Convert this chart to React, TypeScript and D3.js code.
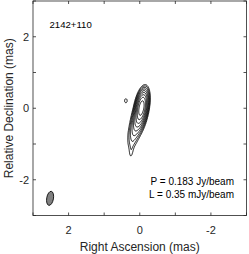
import React from "react";
import * as d3 from "d3";

const W = 249;
const H = 254;
const margin = { left: 33, right: 2.5, top: 1, bottom: 38.5 };

// map limits (mas)
const raDomain = [3, -3];
const decDomain = [-3, 3];
const raTicks = [3, 2, 1, 0, -1, -2, -3];
const decTicks = [-3, -2, -1, 0, 1, 2, 3];
const raLabels = [2, 0, -2];
const decLabels = [-2, 0, 2];

// source model: gaussian components (RA, Dec in mas, peak mJy/beam, fwhm mas, PA deg)
const compRA = [-0.05, 0.03, 0.12, 0.2, 0.24, 0.39];
const compDec = [0.02, -0.28, -0.58, -0.88, -1.2, 0.21];
const compPeak = [150, 18, 3.2, 0.9, 0.48, 0.5];
const compMaj = [0.44, 0.42, 0.42, 0.4, 0.36, 0.16];
const compMin = [0.15, 0.18, 0.2, 0.18, 0.1, 0.1];
const compPA = [-10, -12, -15, -12, -5, 0];

// contour levels (mJy/beam): L x 2^n
const levels = [0.35, 0.7, 1.4, 2.8, 5.6, 11.2, 22.4, 44.8, 89.6];

// restoring beam
const beamRA = 2.52;
const beamDec = -2.52;
const beamMaj = 0.4;
const beamMin = 0.19;
const beamPA = -10;

const sourceName = "2142+110";
const peakText = "P = 0.183 Jy/beam";
const levelText = "L = 0.35 mJy/beam";

const N = 301;

export default function App() {
  const x = d3.scaleLinear().domain(raDomain).range([margin.left, W - margin.right]);
  const y = d3.scaleLinear().domain(decDomain).range([H - margin.bottom, margin.top]);

  const values = new Float64Array(N * N);
  const stepRA = (raDomain[1] - raDomain[0]) / (N - 1);
  const stepDec = (decDomain[0] - decDomain[1]) / (N - 1);
  const k = 4 * Math.LN2;
  for (let j = 0; j < N; j++) {
    const dec = decDomain[1] + j * stepDec;
    for (let i = 0; i < N; i++) {
      const ra = raDomain[0] + i * stepRA;
      let v = 0;
      for (let c = 0; c < compRA.length; c++) {
        const t = (compPA[c] * Math.PI) / 180;
        const dx = ra - compRA[c];
        const dy = dec - compDec[c];
        // along major axis (PA from north through east)
        const u = dx * Math.sin(t) + dy * Math.cos(t);
        const w = dx * Math.cos(t) - dy * Math.sin(t);
        v += compPeak[c] * Math.exp(-k * ((u * u) / (compMaj[c] ** 2) + (w * w) / (compMin[c] ** 2)));
      }
      values[j * N + i] = v;
    }
  }

  const contours = d3.contours().size([N, N]).thresholds(levels)(Array.from(values));
  const gx = d3.scaleLinear().domain([0.5, N - 0.5]).range([x(raDomain[0]), x(raDomain[1])]);
  const gy = d3.scaleLinear().domain([0.5, N - 0.5]).range([y(decDomain[1]), y(decDomain[0])]);
  const path = d3.geoPath(
    d3.geoTransform({
      point(px, py) {
        this.stream.point(gx(px), gy(py));
      },
    })
  );

  const x0 = x.range()[0], x1 = x.range()[1];
  const y0 = y.range()[1], y1 = y.range()[0];
  const tk = 3;
  const font = "Liberation Sans, Arial, Helvetica, sans-serif";
  const ink = "#262626";

  const pxPerMas = Math.abs(x(1) - x(0));

  return (
    <svg width={W} height={H} style={{ position: "absolute", left: 0, top: 0 }} fontFamily={font}>
      <rect x={0} y={0} width={W} height={H} fill="#fff" />
      <g fill="none" stroke="#000" strokeWidth={0.9}>
        {contours.map((c, i) => (
          <path key={i} d={path(c) || ""} />
        ))}
      </g>
      <ellipse
        cx={x(beamRA)}
        cy={y(beamDec)}
        rx={(beamMin * pxPerMas) / 2}
        ry={(beamMaj * pxPerMas) / 2}
        transform={`rotate(${-beamPA} ${x(beamRA)} ${y(beamDec)})`}
        fill="#808080"
        stroke="#000"
        strokeWidth={0.8}
      />
      <text x={49.5} y={28} fontSize={9.6} fill="#000">{sourceName}</text>
      <text x={234} y={185} fontSize={10} fill="#000" textAnchor="end">{peakText}</text>
      <text x={234} y={198} fontSize={10} fill="#000" textAnchor="end">{levelText}</text>

      <g stroke={ink} strokeWidth={0.8}>
        {raTicks.map((t) => (
          <g key={"rx" + t}>
            <line x1={x(t)} x2={x(t)} y1={y1} y2={y1 - tk} />
            <line x1={x(t)} x2={x(t)} y1={y0} y2={y0 + tk} />
          </g>
        ))}
        {decTicks.map((t) => (
          <g key={"dy" + t}>
            <line x1={x0} x2={x0 + tk} y1={y(t)} y2={y(t)} />
            <line x1={x1} x2={x1 - tk} y1={y(t)} y2={y(t)} />
          </g>
        ))}
        <rect x={x0} y={y0} width={x1 - x0} height={y1 - y0} fill="none" />
      </g>

      <g fill={ink} fontSize={11}>
        {raLabels.map((t) => (
          <text key={"rl" + t} x={x(t)} y={234} textAnchor="middle">{t}</text>
        ))}
        {decLabels.map((t) => (
          <text key={"dl" + t} x={29} y={y(t) + 4} textAnchor="end">{t}</text>
        ))}
      </g>
      <text x={(x0 + x1) / 2} y={250.5} fontSize={12} fill={ink} textAnchor="middle">
        Right Ascension (mas)
      </text>
      <text
        transform={`translate(13 ${(y0 + y1) / 2}) rotate(-90)`}
        fontSize={12}
        fill={ink}
        textAnchor="middle"
      >
        Relative Declination (mas)
      </text>
    </svg>
  );
}
